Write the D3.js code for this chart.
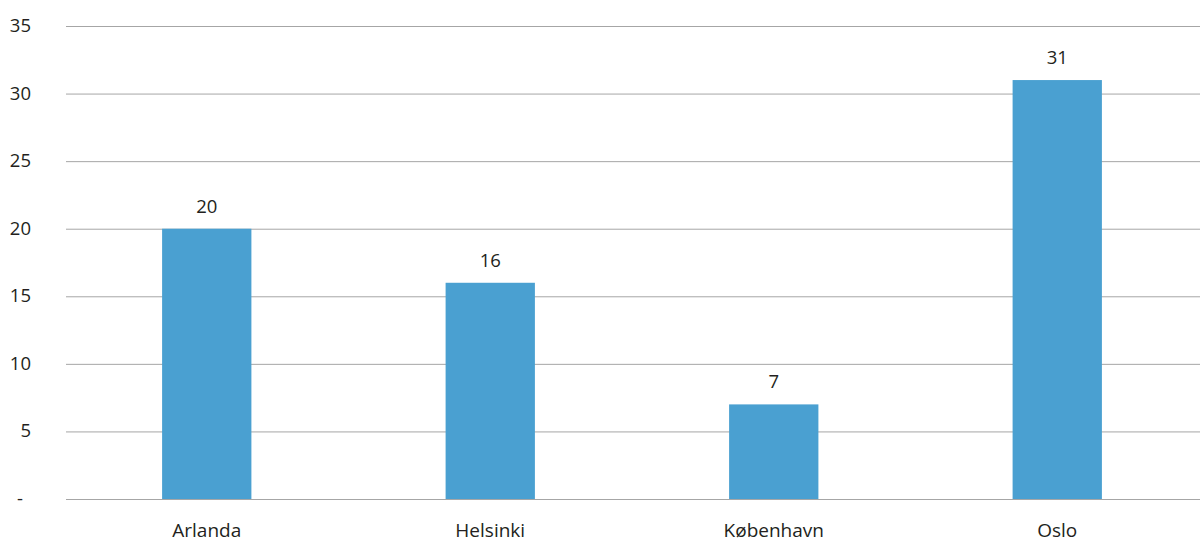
<!DOCTYPE html>
<html><head><meta charset="utf-8">
<script src="https://cdn.jsdelivr.net/npm/d3@7"></script>
<style>body{margin:0;background:#fff}svg{display:block}text{font-family:"Open Sans","Noto Sans",sans-serif;fill:#231f20}</style>
</head><body><svg id="c" width="1200" height="558"></svg>
<script>
const categories = ["Arlanda","Helsinki","København","Oslo"];
const values = [20,16,7,31];
const yTicks = [0,5,10,15,20,25,30,35];
const yTickLabels = ["-","5","10","15","20","25","30","35"];

const svg = d3.select("#c");
const x = d3.scaleBand().domain(categories).range([65,1199]).paddingInner(0.685).paddingOuter(0.3425);
const y = d3.scaleLinear().domain([0,35]).range([499,26]);

svg.append("g").selectAll("line").data(yTicks).join("line")
  .attr("x1",66).attr("x2",1200)
  .attr("y1",d=>y(d)+0.5).attr("y2",d=>y(d)+0.5)
  .attr("stroke","#a6a6a6").attr("stroke-width",1);

svg.append("g").selectAll("text").data(yTicks).join("text")
  .attr("x",(d,i)=>yTickLabels[i]==="-"?23:31)
  .attr("y",d=>y(d)+6)
  .attr("text-anchor","end").attr("font-size",18.5)
  .text((d,i)=>yTickLabels[i]);

svg.append("g").selectAll("rect").data(values).join("rect")
  .attr("x",(d,i)=>x(categories[i])).attr("width",x.bandwidth())
  .attr("y",d=>y(d)).attr("height",d=>y(0)-y(d))
  .attr("fill","#4aa0d1");

svg.append("g").selectAll("text").data(values).join("text")
  .attr("x",(d,i)=>x(categories[i])+x.bandwidth()/2)
  .attr("y",d=>y(d)-16)
  .attr("text-anchor","middle").attr("font-size",18.5)
  .text(d=>d);

svg.append("g").selectAll("text").data(categories).join("text")
  .attr("x",d=>x(d)+x.bandwidth()/2).attr("y",537)
  .attr("text-anchor","middle").attr("font-size",19)
  .text(d=>d);
</script></body></html>
